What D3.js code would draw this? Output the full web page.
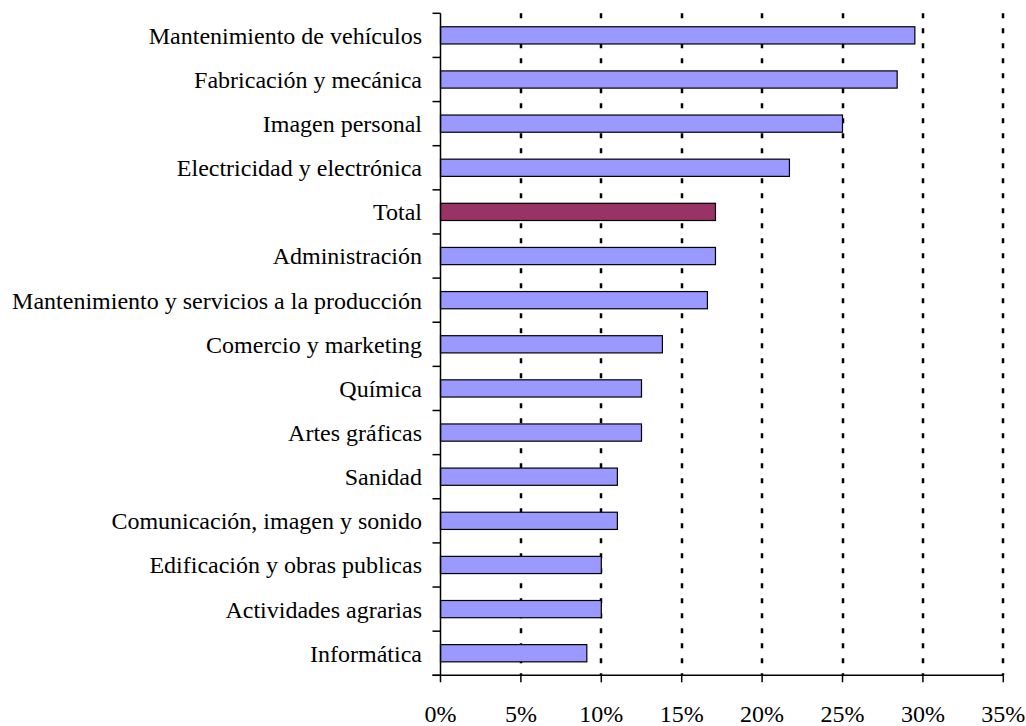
<!DOCTYPE html>
<html>
<head>
<meta charset="utf-8">
<script src="https://cdn.jsdelivr.net/npm/d3@7"></script>
<style>
  body { margin: 0; background: #fff; }
  svg { display: block; }
  text { font-family: "Liberation Serif", "Times New Roman", serif; fill: #000; }
</style>
</head>
<body>
<svg id="chart" width="1026" height="726"></svg>
<script>
const categories = [
  "Mantenimiento de vehículos",
  "Fabricación y mecánica",
  "Imagen personal",
  "Electricidad y electrónica",
  "Total",
  "Administración",
  "Mantenimiento y servicios a la producción",
  "Comercio y marketing",
  "Química",
  "Artes gráficas",
  "Sanidad",
  "Comunicación, imagen y sonido",
  "Edificación y obras publicas",
  "Actividades agrarias",
  "Informática"
];
const values = [29.5, 28.4, 25.0, 21.7, 17.1, 17.1, 16.6, 13.8, 12.5, 12.5, 11.0, 11.0, 10.0, 10.0, 9.1];
const tickValues = [0, 5, 10, 15, 20, 25, 30, 35];
const tickLabels = ["0%", "5%", "10%", "15%", "20%", "25%", "30%", "35%"];

const svg = d3.select("#chart");
const x0 = 440.5, x1 = 1003.3, yTop = 13.3, yBottom = 675.3;

const x = d3.scaleLinear().domain([0, 35]).range([x0, x1]);
const y = d3.scaleBand().domain(categories).range([yTop, yBottom]).paddingInner(0.61).paddingOuter(0.305);

// gridlines
svg.append("g").selectAll("line")
  .data(tickValues.slice(1))
  .join("line")
  .attr("x1", d => Math.round(x(d))).attr("x2", d => Math.round(x(d)))
  .attr("y1", yTop).attr("y2", yBottom)
  .attr("stroke", "#000").attr("stroke-width", 2.5)
  .attr("stroke-dasharray", "5,10");

// bars
svg.append("g").selectAll("rect")
  .data(categories)
  .join("rect")
  .attr("x", x(0))
  .attr("y", d => y(d))
  .attr("width", (d, i) => x(values[i]) - x(0))
  .attr("height", y.bandwidth())
  .attr("fill", d => d === "Total" ? "#993366" : "#9999FF")
  .attr("stroke", "#000").attr("stroke-width", 1.2);

// y axis
const gy = svg.append("g");
gy.append("line").attr("x1", x0).attr("x2", x0).attr("y1", yTop).attr("y2", yBottom)
  .attr("stroke", "#000").attr("stroke-width", 1.5);
const boundaries = d3.range(categories.length + 1).map(i => yTop + i * (yBottom - yTop) / categories.length);
gy.selectAll("line.tk").data(boundaries).join("line").attr("class", "tk")
  .attr("x1", x0 - 8).attr("x2", x0).attr("y1", d => d).attr("y2", d => d)
  .attr("stroke", "#000").attr("stroke-width", 1.5);
gy.selectAll("text").data(categories).join("text")
  .attr("x", 422)
  .attr("y", d => y(d) + y.bandwidth() / 2)
  .attr("dy", "0.35em")
  .attr("text-anchor", "end")
  .attr("font-size", "24px")
  .text(d => d);

// x axis
const gx = svg.append("g");
gx.append("line").attr("x1", x0 - 8).attr("x2", x1).attr("y1", yBottom).attr("y2", yBottom)
  .attr("stroke", "#000").attr("stroke-width", 1.5);
gx.selectAll("line.tk").data(tickValues).join("line").attr("class", "tk")
  .attr("x1", d => x(d)).attr("x2", d => x(d)).attr("y1", yBottom).attr("y2", yBottom + 7)
  .attr("stroke", "#000").attr("stroke-width", 1.5);
gx.selectAll("text").data(tickValues).join("text")
  .attr("x", d => x(d))
  .attr("y", 722)
  .attr("text-anchor", "middle")
  .attr("font-size", "24px")
  .text((d, i) => tickLabels[i]);
</script>
</body>
</html>
